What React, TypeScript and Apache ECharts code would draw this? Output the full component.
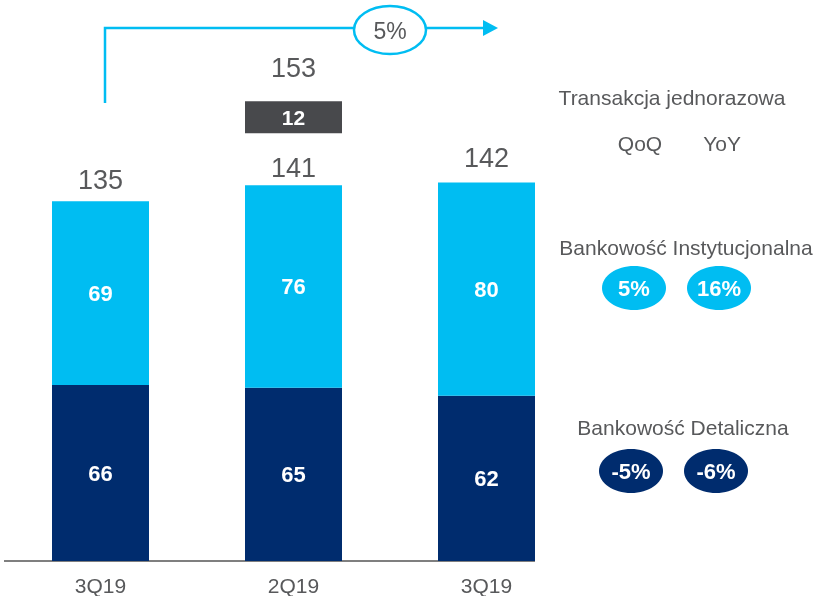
import React, { useEffect, useRef } from "react";
import * as echarts from "echarts";

const categories = ["3Q19", "2Q19", "3Q19"];
const retail = [66, 65, 62];
const institutional = [69, 76, 80];
const oneOff = [0, 12, 0];
const subtotals = [135, 141, 142];
const totals = [135, 153, 142];
const headlineChange = "5%";
const oneOffTitle = "Transakcja jednorazowa";
const changeHeaders = ["QoQ", "YoY"];
const instTitle = "Bankowość Instytucjonalna";
const instChanges = ["5%", "16%"];
const retailTitle = "Bankowość Detaliczna";
const retailChanges = ["-5%", "-6%"];

const LIGHT = "#00BDF2";
const NAVY = "#002C6E";
const GRAY_BOX = "#48494C";
const TEXT = "#58595B";
const FONT = "'Liberation Sans', Arial, sans-serif";
const GAP = 19.5; // visual gap between the 2Q19 bar and the one-off box
const subLabelDist = [8, 4, 11];

export default function App() {
  const ref = useRef<HTMLDivElement>(null);
  useEffect(() => {
    if (!ref.current) return;
    const chart = echarts.init(ref.current, null, { renderer: "svg" });
    const spacer = oneOff.map((v) => (v > 0 ? GAP : 0));
    const pill = (cx: number, cy: number, color: string, text: string) => [
      { type: "ellipse", shape: { cx, cy, rx: 32, ry: 22 }, style: { fill: color } },
      {
        type: "text",
        x: cx,
        y: cy,
        style: { text, fill: "#fff", font: `bold 22px ${FONT}`, align: "center", verticalAlign: "middle" },
      },
    ];
    const label = (x: number, y: number, text: string, size = 21) => ({
      type: "text",
      x,
      y,
      style: { text, fill: TEXT, font: `${size}px ${FONT}`, align: "center", verticalAlign: "middle" },
    });
    chart.setOption({
      animation: false,
      grid: { left: 4, right: 238, top: 28, bottom: 35 },
      xAxis: {
        type: "category",
        data: categories,
        axisLine: { show: false },
        axisTick: { show: false },
        axisLabel: { color: TEXT, fontSize: 21, fontFamily: FONT, margin: 14 },
      },
      yAxis: { type: "value", min: 0, max: 200, show: false, splitLine: { show: false } },
      series: [
        {
          type: "bar",
          stack: "a",
          barWidth: 97,
          data: retail,
          itemStyle: { color: NAVY },
          label: { show: true, position: "inside", color: "#fff", fontSize: 22, fontWeight: "bold", fontFamily: FONT },
        },
        {
          type: "bar",
          stack: "a",
          data: institutional,
          itemStyle: { color: LIGHT },
          label: { show: true, position: "inside", color: "#fff", fontSize: 22, fontWeight: "bold", fontFamily: FONT },
        },
        {
          type: "bar",
          stack: "a",
          data: spacer.map((v, i) => ({ value: v, label: { distance: subLabelDist[i] } })),
          itemStyle: { color: "transparent" },
          label: {
            show: true,
            position: "insideBottom",
            color: TEXT,
            fontSize: 27,
            fontFamily: FONT,
            formatter: (p: any) => String(subtotals[p.dataIndex]),
          },
        },
        {
          type: "bar",
          stack: "a",
          data: oneOff,
          itemStyle: { color: GRAY_BOX },
          label: {
            show: true,
            position: "inside",
            color: "#fff",
            fontSize: 21,
            fontWeight: "bold",
            fontFamily: FONT,
            formatter: (p: any) => (p.value > 0 ? String(p.value) : ""),
          },
        },
        {
          type: "bar",
          stack: "a",
          data: oneOff.map(() => 0),
          itemStyle: { color: "transparent" },
          label: {
            show: true,
            position: "top",
            distance: 20,
            color: TEXT,
            fontSize: 27,
            fontFamily: FONT,
            formatter: (p: any) => (oneOff[p.dataIndex] > 0 ? String(totals[p.dataIndex]) : ""),
          },
        },
      ],
      graphic: [
        { type: "line", shape: { x1: 4, y1: 561, x2: 535, y2: 561 }, style: { stroke: "#7F7F7F", lineWidth: 2 } },
        {
          type: "polyline",
          shape: { points: [[105, 103], [105, 28], [484, 28]] },
          style: { stroke: LIGHT, lineWidth: 2.5, fill: null },
        },
        { type: "polygon", shape: { points: [[483, 20], [498, 28], [483, 36]] }, style: { fill: LIGHT } },
        {
          type: "ellipse",
          shape: { cx: 390, cy: 30, rx: 36, ry: 24 },
          style: { fill: "#fff", stroke: LIGHT, lineWidth: 2.5 },
        },
        label(390, 31, headlineChange, 23),
        label(672, 97, oneOffTitle),
        label(640, 143, changeHeaders[0]),
        label(722, 143, changeHeaders[1]),
        label(686, 247, instTitle),
        ...pill(634, 288, LIGHT, instChanges[0]),
        ...pill(719, 288, LIGHT, instChanges[1]),
        label(683, 427, retailTitle),
        ...pill(631, 471, NAVY, retailChanges[0]),
        ...pill(716, 471, NAVY, retailChanges[1]),
      ],
    });
    return () => chart.dispose();
  }, []);
  return <div ref={ref} style={{ position: "fixed", left: 0, top: 0, width: 821, height: 596 }} />;
}
